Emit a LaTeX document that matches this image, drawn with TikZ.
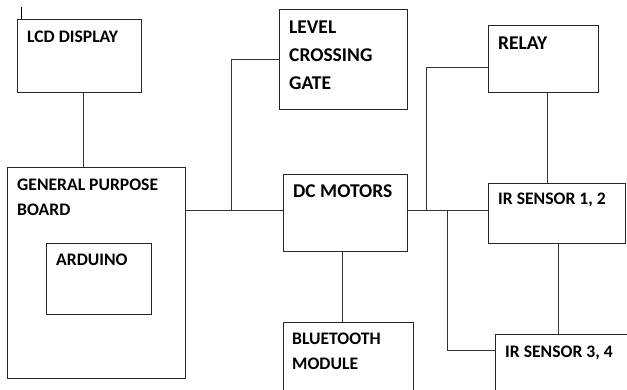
\documentclass[tikz,border=0pt]{standalone}
\usepackage{fontspec}
\setmainfont{Carlito}
\begin{document}
\begin{tikzpicture}[x=1pt,y=-1pt,
  blk/.style={draw=black!85,line width=1pt,inner sep=0pt,outer sep=0pt,anchor=north west},
  wire/.style={draw=black!80,line width=1pt},
  lbl/.style={anchor=base west,inner sep=0pt,font=\fontsize{17.6}{20}\selectfont\bfseries,text=black},
  lblbig/.style={lbl,font=\fontsize{19.5}{22}\selectfont\bfseries}]
\useasboundingbox (0,0) rectangle (627,389);
\clip (0,0) rectangle (627,389);
% boxes
\node[blk,minimum width=124pt,minimum height=73pt] (lcd) at (17,19) {};
\node[blk,minimum width=178pt,minimum height=211pt] (gpb) at (7,167) {};
\node[blk,minimum width=105pt,minimum height=71pt] (ard) at (46,243) {};
\node[blk,minimum width=128pt,minimum height=100pt] (lvl) at (279,9) {};
\node[blk,minimum width=124pt,minimum height=77pt] (dcm) at (283,174) {};
\node[blk,minimum width=130pt,minimum height=80pt] (blt) at (283,322) {};
\node[blk,minimum width=110pt,minimum height=67pt] (rly) at (488,25) {};
\node[blk,minimum width=137pt,minimum height=60pt] (ir12) at (488,183) {};
\node[blk,minimum width=150pt,minimum height=70pt] (ir34) at (495,334) {};
% labels
\node[lbl] (tlcd) at (27,42) {LCD DISPLAY};
\node[lbl] (tgpb1) at (17,190) {GENERAL PURPOSE};
\node[lbl] (tgpb2) at (17,215) {BOARD};
\node[lbl] (tard) at (56,265) {ARDUINO};
\node[lblbig] (tlvl1) at (289,33) {LEVEL};
\node[lblbig] (tlvl2) at (289,61) {CROSSING};
\node[lblbig] (tlvl3) at (289,89) {GATE};
\node[lblbig] (tdcm) at (293,197) {DC MOTORS};
\node[lbl] (tblt1) at (292,344) {BLUETOOTH};
\node[lbl] (tblt2) at (292,369) {MODULE};
\node[lblbig] (trly) at (498,49) {RELAY};
\node[lbl] (tir12) at (498,204) {IR SENSOR 1, 2};
\node[lbl] (tir34) at (505,357) {IR SENSOR 3, 4};
% cursor mark
\coordinate (cur1) at (21,7);
\coordinate (cur2) at (21,19);
\draw[line width=1pt] (cur1) -- (cur2);
% junctions
\coordinate (j1) at (231,210);
\coordinate (j2) at (426,210);
\coordinate (j3) at (447,210);
% connectors
\draw[wire] (lcd.south -| 83,0) -- (gpb.north -| 83,0);
\draw[wire] (gpb.east |- j1) -- (dcm.west |- j1);
\draw[wire] (j1) |- (lvl.west);
\draw[wire] (dcm.east |- j2) -- (ir12.west |- j2);
\draw[wire] (j2) |- (rly.west |- 0,67);
\draw[wire] (j3) |- (ir34.west |- 0,350);
\draw[wire] (rly.south -| 547,0) -- (ir12.north -| 547,0);
\draw[wire] (ir12.south -| 558,0) -- (ir34.north -| 558,0);
\draw[wire] (dcm.south -| 342,0) -- (blt.north -| 342,0);
\end{tikzpicture}
\end{document}
